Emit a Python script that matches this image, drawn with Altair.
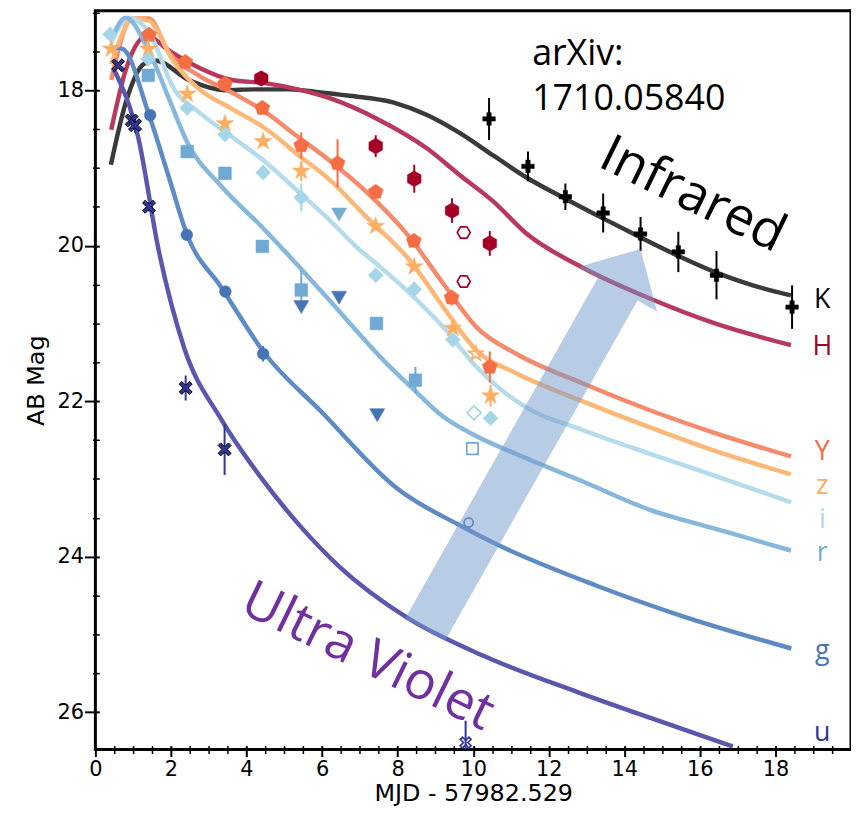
import altair as alt
import pandas as pd

# ---------------- model light curves ----------------
K_model_t = [0.41, 0.81, 1.29, 1.59, 2.47, 3.43, 4.22, 5.10, 5.96, 6.67, 7.90, 8.78, 9.64, 10.53, 11.40, 12.45, 13.32, 14.37, 15.42, 16.40, 17.40, 18.41]
K_model_mag = [18.96, 18.15, 17.66, 17.62, 17.87, 18.00, 17.99, 17.99, 18.03, 18.07, 18.16, 18.32, 18.55, 18.84, 19.12, 19.40, 19.62, 19.88, 20.13, 20.34, 20.51, 20.64]

H_model_t = [0.42, 0.81, 1.37, 1.94, 2.73, 3.61, 4.49, 5.36, 6.24, 7.46, 8.78, 9.64, 10.53, 11.40, 12.89, 14.63, 16.40, 18.41]
H_model_mag = [18.51, 17.73, 17.30, 17.49, 17.71, 17.87, 17.91, 17.99, 18.11, 18.37, 18.75, 19.09, 19.43, 19.84, 20.28, 20.67, 21.00, 21.28]

Y_model_t = [0.42, 0.97, 1.42, 1.94, 2.73, 3.61, 4.49, 5.36, 6.24, 7.11, 8.33, 9.21, 10.09, 11.14, 12.89, 14.64, 16.40, 18.41]
Y_model_mag = [17.87, 17.08, 17.08, 17.51, 17.81, 18.03, 18.28, 18.60, 18.92, 19.28, 19.90, 20.49, 21.05, 21.39, 21.77, 22.11, 22.41, 22.71]

z_model_t = [0.42, 1.02, 1.42, 2.08, 2.73, 3.61, 4.49, 5.36, 6.24, 7.11, 8.34, 9.21, 10.09, 11.14, 12.89, 14.64, 16.40, 18.41]
z_model_mag = [17.67, 17.08, 17.11, 17.64, 17.98, 18.24, 18.49, 18.83, 19.17, 19.60, 20.20, 20.79, 21.35, 21.64, 22.00, 22.33, 22.64, 22.94]

i_model_t = [0.42, 0.89, 1.42, 2.10, 2.73, 3.61, 4.49, 5.36, 6.24, 6.94, 7.46, 8.34, 9.21, 10.09, 11.40, 12.89, 14.64, 16.40, 18.41]
i_model_mag = [17.39, 17.07, 17.26, 18.00, 18.28, 18.60, 18.92, 19.30, 19.69, 20.03, 20.24, 20.62, 21.05, 21.56, 22.08, 22.37, 22.67, 22.96, 23.30]

r_model_t = [0.45, 0.80, 1.42, 1.94, 2.42, 3.34, 4.39, 5.01, 5.97, 7.72, 8.34, 9.21, 10.09, 11.14, 12.89, 14.64, 16.40, 18.41]
r_model_mag = [17.32, 17.07, 17.50, 18.10, 18.66, 19.24, 19.75, 20.07, 20.58, 21.52, 21.81, 22.20, 22.45, 22.68, 23.03, 23.39, 23.64, 23.92]

g_model_t = [0.45, 0.72, 1.42, 1.94, 2.42, 3.34, 4.49, 5.97, 7.98, 9.74, 10.62, 13.25, 15.45, 18.42]
g_model_mag = [17.45, 17.47, 18.32, 19.11, 19.85, 20.54, 21.39, 22.13, 23.12, 23.62, 23.84, 24.37, 24.75, 25.18]

u_model_t = [0.50, 1.13, 1.68, 2.34, 3.34, 4.38, 5.41, 6.44, 8.24, 10.30, 12.87, 15.45, 16.87]
u_model_mag = [17.74, 18.60, 20.07, 21.30, 22.24, 22.98, 23.60, 24.12, 24.78, 25.28, 25.76, 26.20, 26.44]

# ---------------- observations ----------------
K_obs_t = [10.42, 11.45, 12.44, 13.44, 14.43, 15.43, 16.44, 18.44]
K_obs_mag = [18.37, 18.98, 19.37, 19.58, 19.85, 20.08, 20.38, 20.79]
K_obs_err = [0.27, 0.19, 0.17, 0.25, 0.22, 0.26, 0.31, 0.28]

H_obs_t = [4.39, 7.42, 8.44, 9.44, 10.44]
H_obs_mag = [17.85, 18.72, 19.14, 19.55, 19.97]
H_obs_err = [0.05, 0.14, 0.18, 0.16, 0.16]
H_open_t = [9.75, 9.75]
H_open_mag = [19.83, 20.46]

Y_obs_t = [1.42, 2.38, 3.43, 4.42, 5.45, 6.41, 7.42, 8.43, 9.43, 10.44]
Y_obs_mag = [17.29, 17.64, 17.92, 18.23, 18.71, 18.94, 19.31, 19.94, 20.67, 21.56]
Y_obs_err = [0, 0, 0, 0, 0.17, 0.31, 0, 0.04, 0.10, 0.20]

z_obs_t = [0.42, 1.40, 2.43, 3.43, 4.44, 5.45, 7.42, 8.44, 9.46, 10.46]
z_obs_mag = [17.47, 17.47, 18.05, 18.43, 18.66, 19.04, 19.75, 20.27, 21.06, 21.93]
z_obs_err = [0, 0, 0, 0, 0, 0.13, 0, 0, 0.05, 0.14]
z_open_t = [10.07]
z_open_mag = [21.39]

i_obs_t = [0.39, 1.40, 2.43, 3.43, 4.44, 5.45, 7.42, 8.44, 9.46, 10.46]
i_obs_mag = [17.28, 17.60, 18.23, 18.57, 19.06, 19.38, 20.38, 20.56, 21.21, 22.22]
i_obs_err = [0, 0, 0, 0, 0, 0.18, 0, 0, 0, 0]
i_open_t = [10.02]
i_open_mag = [22.15]

r_obs_t = [1.40, 2.43, 3.43, 4.42, 5.45, 7.44, 8.47]
r_obs_mag = [17.81, 18.79, 19.07, 20.01, 20.57, 21.00, 21.73]
r_obs_err = [0, 0, 0, 0, 0.25, 0.05, 0.17]
r_open_t = [9.98]
r_open_mag = [22.61]
r_tri_t = [6.45]
r_tri_mag = [19.60]

g_obs_t = [1.45, 2.42, 3.44, 4.44]
g_obs_mag = [18.32, 19.86, 20.59, 21.39]
g_obs_err = [0, 0, 0, 0.10]
g_open_t = [9.88]
g_open_mag = [23.56]
g_tri_t = [5.45, 6.45, 7.46]
g_tri_mag = [20.79, 20.67, 22.18]

u_obs_t = [0.60, 0.96, 1.05, 1.42, 2.39, 3.42]
u_obs_mag = [17.68, 18.39, 18.45, 19.50, 21.83, 22.62]
u_obs_err = [0.04, 0.10, 0.10, 0.06, 0.16, 0.33]
u_open_t = [9.80]
u_open_mag = [26.39]
u_open_err = [0.28]

band_names = ["K", "H", "Y", "z", "i", "r", "g", "u"]
band_label_mag = [20.80, 21.41, 22.76, 23.19, 23.63, 24.06, 25.31, 26.37]
band_label_t = 19.24

# ---------------- styles ----------------
line_color = {"K": "#3a3a3a", "H": "#b8395e", "Y": "#f58b6d", "z": "#fdb878",
              "i": "#b4dcec", "r": "#87b8dc", "g": "#5f8bc5", "u": "#5a58ac"}
mark_color = {"K": "#000000", "H": "#a50026", "Y": "#f46d43", "z": "#fdae61",
              "i": "#a6d5e8", "r": "#70a9d3", "g": "#4575b4", "u": "#313695"}
label_color = {"K": "#000000", "H": "#a50026", "Y": "#f46d43", "z": "#fdae61",
               "i": "#abd9e9", "r": "#74add1", "g": "#4575b4", "u": "#313695"}

PLUS = "M-0.35,-1L0.35,-1L0.35,-0.35L1,-0.35L1,0.35L0.35,0.35L0.35,1L-0.35,1L-0.35,0.35L-1,0.35L-1,-0.35L-0.35,-0.35Z"
HEXP = "M0,-1L0.866,-0.5L0.866,0.5L0,1L-0.866,0.5L-0.866,-0.5Z"
HEXF = "M-1,0L-0.5,-0.866L0.5,-0.866L1,0L0.5,0.866L-0.5,0.866Z"
PENT = "M0,-1L0.951,-0.309L0.588,0.809L-0.588,0.809L-0.951,-0.309Z"
STAR = "M0,-1L0.2245,-0.309L0.951,-0.309L0.363,0.118L0.588,0.809L0,0.382L-0.588,0.809L-0.363,0.118L-0.951,-0.309L-0.2245,-0.309Z"
DIAM = "M0,-1L1,0L0,1L-1,0Z"
SQR = "M-1,-1L1,-1L1,1L-1,1Z"
XSH = "M-1,-0.6L-0.6,-1L0,-0.4L0.6,-1L1,-0.6L0.4,0L1,0.6L0.6,1L0,0.4L-0.6,1L-1,0.6L-0.4,0Z"
ARROW = "M0,-1L0.2065,-0.7885L0.1044,-0.7885L0.1044,1L-0.1044,1L-0.1044,-0.7885L-0.2065,-0.7885Z"

filled_shape = {"K": (PLUS, 160), "H": (HEXP, 250), "Y": (PENT, 250), "z": (STAR, 360),
                "i": (DIAM, 230), "r": (SQR, 165), "g": ("circle", 140), "u": (XSH, 170)}
open_shape = {"H": (HEXF, 170), "z": (STAR, 230), "i": (DIAM, 200), "r": (SQR, 130),
              "g": ("circle", 85), "u": (XSH, 120)}

# ---------------- tables ----------------
models = {"K": (K_model_t, K_model_mag), "H": (H_model_t, H_model_mag), "Y": (Y_model_t, Y_model_mag),
          "z": (z_model_t, z_model_mag), "i": (i_model_t, i_model_mag), "r": (r_model_t, r_model_mag),
          "g": (g_model_t, g_model_mag), "u": (u_model_t, u_model_mag)}
rows = []
for b in band_names:
    ts, ms = models[b]
    for t, m in zip(ts, ms):
        rows.append({"band": b, "t": t, "mag": m, "lcolor": line_color[b]})
lines_df = pd.DataFrame(rows)

obs = {"K": (K_obs_t, K_obs_mag, K_obs_err), "H": (H_obs_t, H_obs_mag, H_obs_err),
       "Y": (Y_obs_t, Y_obs_mag, Y_obs_err), "z": (z_obs_t, z_obs_mag, z_obs_err),
       "i": (i_obs_t, i_obs_mag, i_obs_err), "r": (r_obs_t, r_obs_mag, r_obs_err),
       "g": (g_obs_t, g_obs_mag, g_obs_err), "u": (u_obs_t, u_obs_mag, u_obs_err)}
mrows, erows = [], []
for b in band_names:
    ts, ms, es = obs[b]
    shp, sz = filled_shape[b]
    for t, m, e in zip(ts, ms, es):
        mrows.append({"t": t, "mag": m, "shape": shp, "size": sz, "fill": mark_color[b],
                      "stroke": "#000000" if b == "u" else mark_color[b], "sw": 1.0 if b == "u" else 0.5})
        if e > 0:
            erows.append({"t": t, "lo": m - e, "hi": m + e, "c": mark_color[b]})
for ts, ms, c in [(r_tri_t, r_tri_mag, "#74add1"), (g_tri_t, g_tri_mag, "#4575b4")]:
    for t, m in zip(ts, ms):
        mrows.append({"t": t, "mag": m, "shape": "triangle-down", "size": 230, "fill": c, "stroke": c, "sw": 0.5})

opens = {"H": (H_open_t, H_open_mag), "z": (z_open_t, z_open_mag), "i": (i_open_t, i_open_mag),
         "r": (r_open_t, r_open_mag), "g": (g_open_t, g_open_mag), "u": (u_open_t, u_open_mag)}
for b, (ts, ms) in opens.items():
    shp, sz = open_shape[b]
    for t, m in zip(ts, ms):
        mrows.append({"t": t, "mag": m, "shape": shp, "size": sz, "fill": "transparent",
                      "stroke": mark_color[b], "sw": 1.7})
for t, m, e in zip(u_open_t, u_open_mag, u_open_err):
    erows.append({"t": t, "lo": m - e, "hi": m + e, "c": mark_color["u"]})

marks_df = pd.DataFrame(mrows)
err_df = pd.DataFrame(erows)
labels_df = pd.DataFrame({"band": band_names, "mag": band_label_mag,
                          "t": [band_label_t] * len(band_names),
                          "c": [label_color[b] for b in band_names]})

# ---------------- scales / axes ----------------
xs = alt.Scale(domain=[0, 20], nice=False, zero=False)
ys = alt.Scale(domain=[16.98, 26.48], reverse=True, nice=False, zero=False)

x_major = alt.Axis(orient="bottom", values=list(range(0, 19, 2)), tickSize=11, tickWidth=2,
                   tickColor="black", offset=-4, domain=False, grid=False,
                   labelFont="DejaVu Sans", labelFontSize=21, labelColor="black",
                   labelPadding=2, labelFlush=False, labelOverlap=False,
                   title="MJD - 57982.529", titleFont="DejaVu Sans", titleFontSize=24,
                   titleFontWeight="normal", titleColor="black",
                   titleY=55, titleBaseline="alphabetic")
y_major = alt.Axis(orient="left", values=[18, 20, 22, 24, 26], tickSize=15, tickWidth=2,
                   tickColor="black", offset=-4, domain=False, grid=False,
                   labelFont="DejaVu Sans", labelFontSize=21, labelColor="black",
                   labelPadding=1, labelFlush=False, labelOverlap=False,
                   title="AB Mag", titleFont="DejaVu Sans", titleFontSize=24,
                   titleFontWeight="normal", titleColor="black",
                   titleX=-63, titleBaseline="middle")
x_minor = alt.Axis(orient="bottom", values=[v / 2 for v in range(1, 40) if v % 4 != 0],
                   tickSize=8, tickWidth=1.5, tickColor="black", offset=-4, domain=False,
                   grid=False, labels=False, title="")
y_minor = alt.Axis(orient="left", values=[v / 2 for v in range(34, 54) if v % 4 != 0],
                   tickSize=7, tickWidth=1.5, tickColor="black", offset=-4, domain=False,
                   grid=False, labels=False, title="")

lines = alt.Chart(lines_df).mark_line(strokeWidth=4.5, clip=True, interpolate="monotone").encode(
    x=alt.X("t:Q", scale=xs, axis=x_major),
    y=alt.Y("mag:Q", scale=ys, axis=y_major),
    color=alt.Color("lcolor:N", scale=None),
    detail="band:N",
)

errs = alt.Chart(err_df).mark_rule(strokeWidth=2, clip=True).encode(
    x=alt.X("t:Q", scale=xs, axis=None),
    y=alt.Y("lo:Q", scale=ys, axis=None),
    y2="hi:Q",
    color=alt.Color("c:N", scale=None),
)

points = alt.Chart(marks_df).mark_point(filled=True, opacity=1, clip=True).encode(
    x=alt.X("t:Q", scale=xs, axis=x_minor),
    y=alt.Y("mag:Q", scale=ys, axis=y_minor),
    shape=alt.Shape("shape:N", scale=None),
    size=alt.Size("size:Q", scale=None),
    fill=alt.Fill("fill:N", scale=None),
    stroke=alt.Stroke("stroke:N", scale=None),
    strokeWidth=alt.StrokeWidth("sw:Q", scale=None),
)

arrow_df = pd.DataFrame({"t": [11.577], "mag": [22.49]})
arrow = alt.Chart(arrow_df).mark_point(shape=ARROW, size=194128, angle=29.5, filled=True,
                                       fill="#7399cc", opacity=0.5, strokeWidth=0).encode(
    x=alt.X("t:Q", scale=xs, axis=None),
    y=alt.Y("mag:Q", scale=ys, axis=None),
)

band_labels = alt.Chart(labels_df).mark_text(font="Open Sans", fontSize=27, align="center",
                                             baseline="alphabetic").encode(
    x=alt.X("t:Q", scale=xs, axis=None),
    y=alt.Y("mag:Q", scale=ys, axis=None),
    text="band:N",
    color=alt.Color("c:N", scale=None),
)

arxiv_df = pd.DataFrame({"t": [11.56, 11.56], "mag": [17.68, 18.26], "txt": ["arXiv:", "1710.05840"]})
arxiv = alt.Chart(arxiv_df).mark_text(font="Open Sans", fontSize=36, align="left",
                                      baseline="alphabetic", color="black").encode(
    x=alt.X("t:Q", scale=xs, axis=None),
    y=alt.Y("mag:Q", scale=ys, axis=None),
    text="txt:N",
)

ir_df = pd.DataFrame({"t": [15.81], "mag": [19.35], "txt": ["Infrared"]})
infrared = alt.Chart(ir_df).mark_text(font="Open Sans", fontSize=53, angle=26, align="center",
                                      baseline="middle", color="black").encode(
    x=alt.X("t:Q", scale=xs, axis=None),
    y=alt.Y("mag:Q", scale=ys, axis=None),
    text="txt:N",
)

uv_df = pd.DataFrame({"t": [7.21], "mag": [25.29], "txt": ["Ultra Violet"]})
ultraviolet = alt.Chart(uv_df).mark_text(font="Open Sans", fontSize=53, angle=26, align="center",
                                         baseline="middle", color="#7030a0").encode(
    x=alt.X("t:Q", scale=xs, axis=None),
    y=alt.Y("mag:Q", scale=ys, axis=None),
    text="txt:N",
)

chart = alt.layer(lines, errs, points, arrow, band_labels, arxiv, infrared, ultraviolet).resolve_axis(
    x="independent", y="independent"
).properties(
    width=761, height=744,
    autosize=alt.AutoSizeParams(type="none"),
    padding={"left": 88, "top": 0, "right": 0, "bottom": 56},
    background="white",
).configure_view(stroke="black", strokeWidth=3)

chart.save("out.html", embed_options={"renderer": "svg", "actions": False})
